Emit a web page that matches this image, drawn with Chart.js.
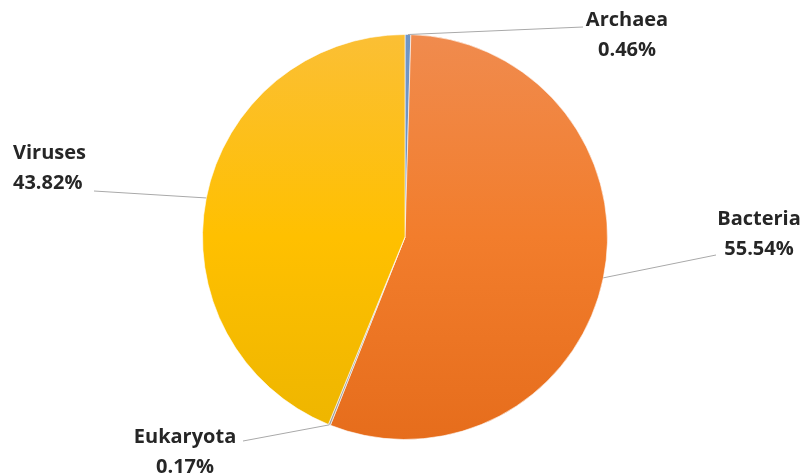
<!DOCTYPE html>
<html>
<head>
<meta charset="utf-8">
<script src="https://cdn.jsdelivr.net/npm/chart.js@4"></script>
<style>
  html, body { margin: 0; padding: 0; background: #fff; }
  #wrap { width: 804px; height: 475px; position: relative; }
</style>
</head>
<body>
<div id="wrap"><canvas id="pieChart" width="804" height="475"></canvas></div>
<script>
const domains = ["Archaea", "Bacteria", "Eukaryota", "Viruses"];
const shares = [0.46, 55.54, 0.17, 43.82];
const shareLabels = ["0.46%", "55.54%", "0.17%", "43.82%"];

// top / middle / bottom colour stops for each slice
const sliceColors = [
  ["#7196C6", "#6A8FC0", "#5E86B8"],
  ["#F08B4E", "#F27D2C", "#E66D1C"],
  ["#B0B0B0", "#A6A6A6", "#9E9E9E"],
  ["#FBBF35", "#FFC000", "#EDB500"]
];

// where each callout text sits and where its leader line ends
const callouts = [
  { x: 627, y: 20, align: "center", lineX: 583, lineY: 27 },
  { x: 759, y: 219, align: "center", lineX: 716, lineY: 255 },
  { x: 185, y: 437, align: "center", lineX: 243, lineY: 441 },
  { x: 13, y: 153, align: "left", lineX: 94, lineY: 191 }
];

function sliceFill(context) {
  const chart = context.chart;
  const area = chart.chartArea;
  const stops = sliceColors[context.dataIndex];
  if (!area) return stops[1];
  const g = chart.ctx.createLinearGradient(0, area.top, 0, area.bottom);
  g.addColorStop(0, stops[0]);
  g.addColorStop(0.5, stops[1]);
  g.addColorStop(1, stops[2]);
  return g;
}

const calloutPlugin = {
  id: "callouts",
  afterDatasetsDraw(chart) {
    const ctx = chart.ctx;
    const arcs = chart.getDatasetMeta(0).data;
    ctx.save();
    arcs.forEach((arc, i) => {
      const c = callouts[i];
      const mid = (arc.startAngle + arc.endAngle) / 2;
      const sx = arc.x + Math.cos(mid) * arc.outerRadius;
      const sy = arc.y + Math.sin(mid) * arc.outerRadius;
      ctx.strokeStyle = "#A9A9A9";
      ctx.lineWidth = 1;
      ctx.beginPath();
      ctx.moveTo(sx, sy);
      ctx.lineTo(c.lineX, c.lineY);
      ctx.stroke();

      ctx.fillStyle = "#262626";
      ctx.font = "bold 20px 'Open Sans', sans-serif";
      ctx.textAlign = c.align;
      ctx.textBaseline = "middle";
      ctx.fillText(domains[i], c.x, c.y);
      ctx.fillText(shareLabels[i], c.x, c.y + 30);
    });
    ctx.restore();
  }
};

new Chart(document.getElementById("pieChart").getContext("2d"), {
  type: "pie",
  data: {
    labels: domains,
    datasets: [{
      data: shares,
      backgroundColor: sliceFill,
      borderColor: "rgba(255,255,255,0.6)",
      borderWidth: 1
    }]
  },
  options: {
    responsive: false,
    animation: false,
    layout: { padding: { top: 34, bottom: 35, left: 202, right: 196 } },
    plugins: {
      legend: { display: false },
      tooltip: { enabled: false }
    }
  },
  plugins: [calloutPlugin]
});
</script>
</body>
</html>
